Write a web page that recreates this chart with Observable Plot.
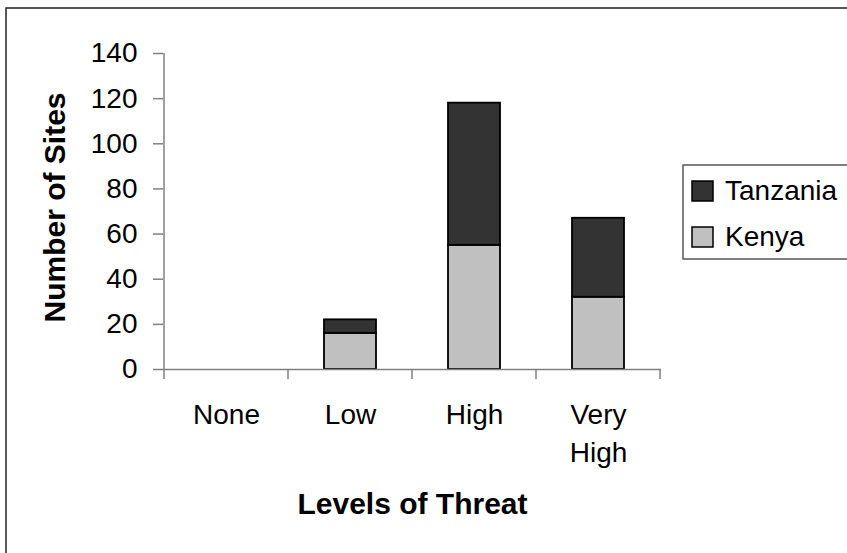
<!DOCTYPE html>
<html>
<head>
<meta charset="utf-8">
<script src="https://cdn.jsdelivr.net/npm/d3@7"></script>
<script src="https://cdn.jsdelivr.net/npm/@observablehq/plot@0.6"></script>
<style>
  html, body { margin: 0; padding: 0; background: white; overflow: hidden; }
  #chart svg { font-family: "Liberation Sans", Arial, sans-serif; overflow: visible; }
</style>
</head>
<body>
<div id="chart"></div>
<script>
const categories = ["None", "Low", "High", "Very High"];
const categoryLabels = ["None", "Low", "High", "Very\nHigh"];
const series = ["Kenya", "Tanzania"];
const kenya = [0, 16, 55, 32];
const tanzania = [0, 6, 63, 35];
const yTicks = [0, 20, 40, 60, 80, 100, 120, 140];
const legendOrder = ["Tanzania", "Kenya"];
const colors = {Tanzania: "#333333", Kenya: "#c0c0c0"};

const rows = [];
categories.forEach((c, i) => rows.push({level: c, country: "Kenya", value: kenya[i]}));
categories.forEach((c, i) => rows.push({level: c, country: "Tanzania", value: tanzania[i]}));
const barRows = rows.filter(d => d.value > 0);

const labelOf = new Map(categories.map((c, i) => [c, categoryLabels[i]]));
const FONT = "Liberation Sans, Arial, sans-serif";

const chart = Plot.plot({
  width: 847,
  height: 553,
  marginLeft: 163,
  marginRight: 186,
  marginTop: 53,
  marginBottom: 184,
  style: {fontFamily: FONT, background: "white"},
  x: {domain: categories, padding: 0},
  y: {domain: [0, 140]},
  color: {domain: legendOrder, range: legendOrder.map(k => colors[k])},
  marks: [
    Plot.barY(barRows, Plot.stackY({
      x: "level", y: "value", fill: "country", order: series,
      stroke: "black", strokeWidth: 1.8, insetLeft: 36, insetRight: 36
    })),
    Plot.ruleY([0], {stroke: "#808080", strokeWidth: 1.5}),
    Plot.axisY({ticks: yTicks, tickSize: 10, tickPadding: 16, fontSize: 28,
      stroke: "#808080", strokeWidth: 1.5, fill: "black", label: null}),
    Plot.axisX({tickSize: 0, tickPadding: 27, fontSize: 28, lineHeight: 1.36,
      fill: "black", label: null, tickFormat: d => labelOf.get(d)}),
    Plot.text(["Levels of Threat"], {frameAnchor: "bottom", dy: 144,
      fontWeight: "bold", fontSize: 30, fill: "black"}),
    Plot.text(["Number of Sites"], {frameAnchor: "left", textAnchor: "middle", dx: -108, dy: -4, rotate: -90,
      fontWeight: "bold", fontSize: 30, fill: "black"})
  ]
});

document.getElementById("chart").appendChild(chart);

const svg = d3.select(chart);
const sx = chart.scale("x");
const sy = chart.scale("y");
const y0 = sy.apply(0);
const yTop = sy.apply(140);
const bounds = categories.map(c => sx.apply(c));
bounds.push(sx.apply(categories[categories.length - 1]) + sx.bandwidth);

// y axis line
svg.append("line")
  .attr("x1", bounds[0]).attr("x2", bounds[0])
  .attr("y1", yTop).attr("y2", y0)
  .attr("stroke", "#808080").attr("stroke-width", 1.5);

// category boundary ticks
svg.append("g").selectAll("line").data(bounds).join("line")
  .attr("x1", d => d).attr("x2", d => d)
  .attr("y1", y0).attr("y2", y0 + 10)
  .attr("stroke", "#808080").attr("stroke-width", 1.5);

// outer frame
svg.append("rect")
  .attr("x", 6).attr("y", 8).attr("width", 900).attr("height", 600)
  .attr("fill", "none").attr("stroke", "#222").attr("stroke-width", 1.5);

// legend
const lg = svg.append("g").attr("text-anchor", "start");
lg.append("rect")
  .attr("x", 683).attr("y", 165).attr("width", 200).attr("height", 94)
  .attr("fill", "white").attr("stroke", "#555").attr("stroke-width", 1.5);
legendOrder.forEach((k, i) => {
  const yy = 181 + i * 46;
  lg.append("rect")
    .attr("x", 692).attr("y", yy).attr("width", 21).attr("height", 20)
    .attr("fill", chart.scale("color").apply(k)).attr("stroke", "black").attr("stroke-width", 1.5);
  lg.append("text")
    .attr("x", 725).attr("y", yy + 19)
    .attr("text-anchor", "start")
    .attr("font-family", FONT).attr("font-size", 28).attr("fill", "black")
    .text(k);
});
</script>
</body>
</html>
